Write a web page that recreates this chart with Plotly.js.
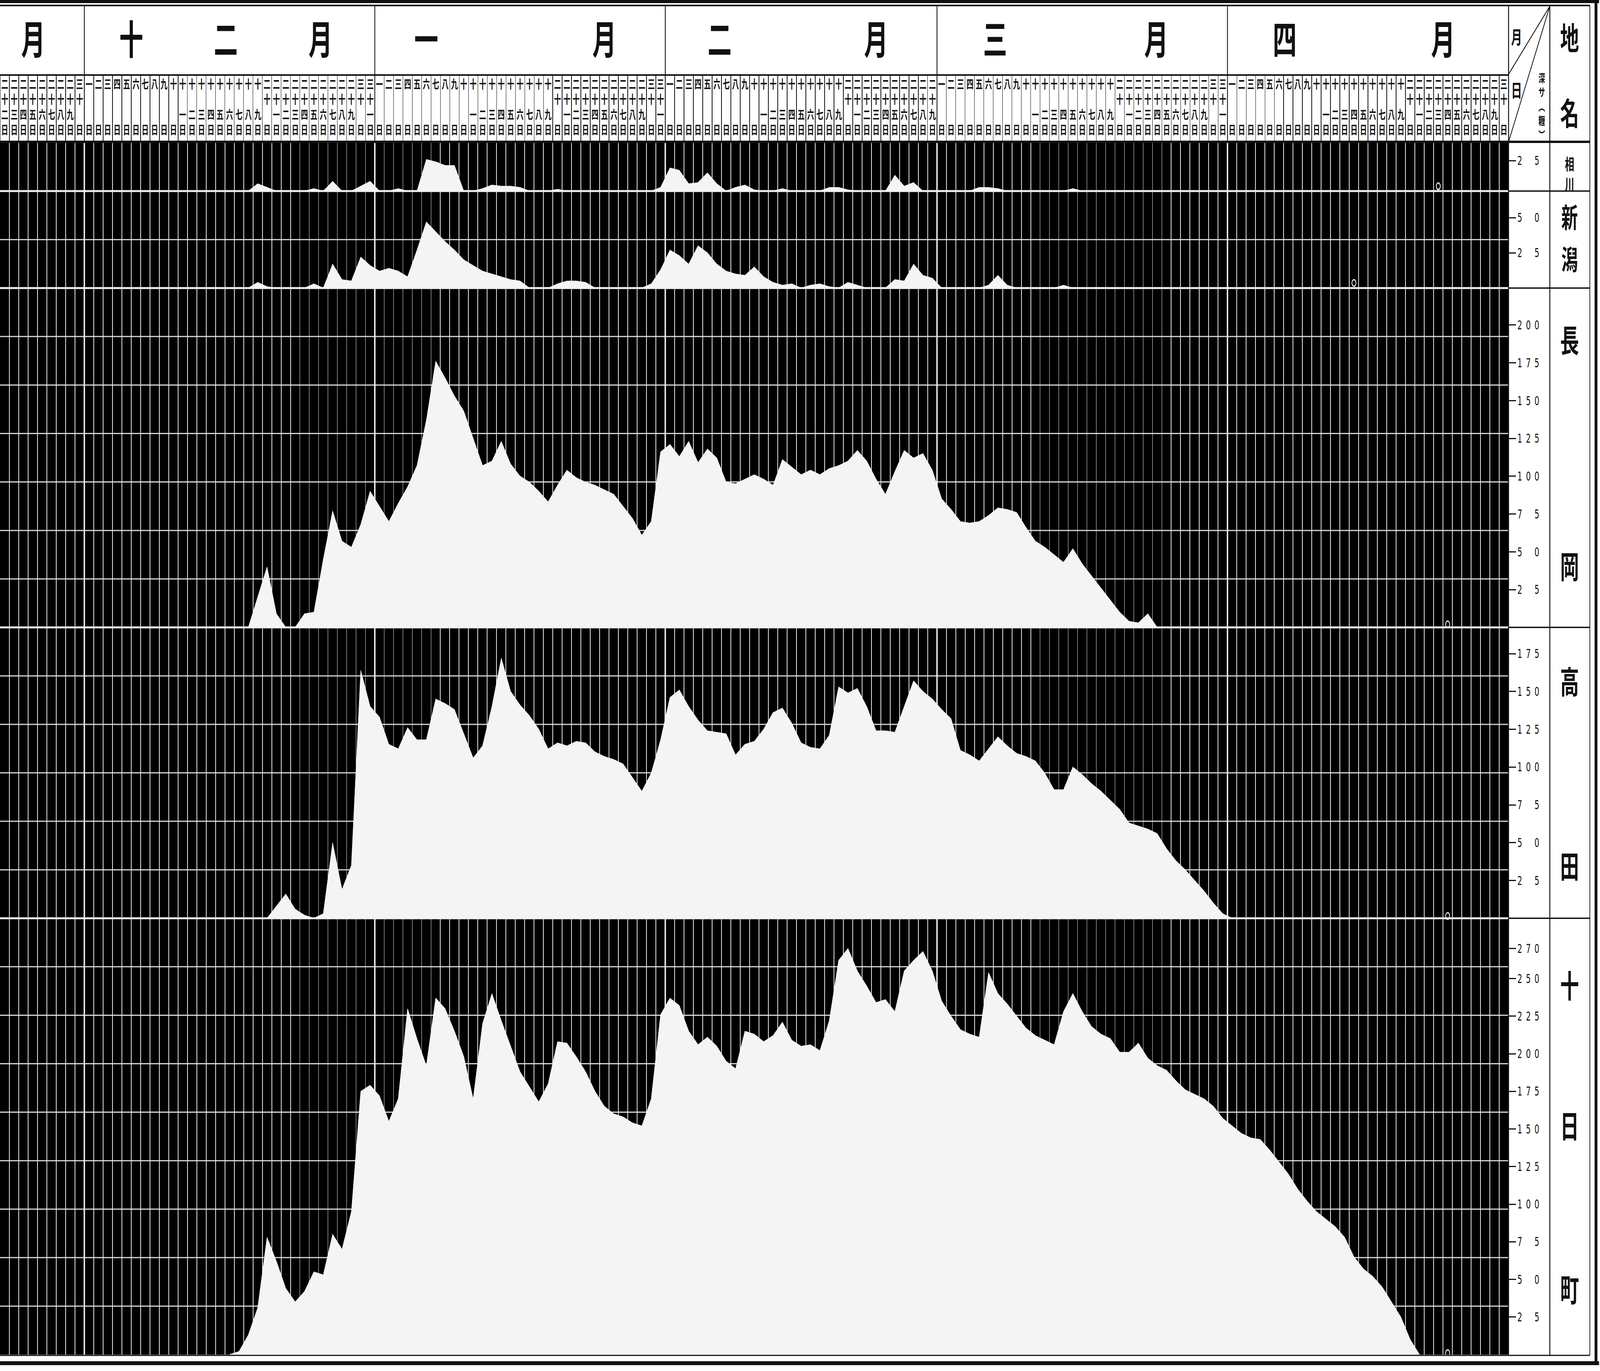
<!DOCTYPE html>
<html>
<head>
<meta charset="utf-8">
<script src="https://cdn.plot.ly/plotly-3.0.1.min.js"></script>
<style>
html,body{margin:0;padding:0;background:#fff;overflow:hidden;}
#wrap{position:absolute;left:0;top:0;width:6790px;height:3509px;transform-origin:0 0;}
#chart{width:6790px;height:3509px;}
</style>
</head>
<body>
<div id="wrap"><div id="chart"></div></div>
<script>
// ---------------- DATA ----------------
const monthNames = ['十一月','十二月','一月','二月','三月','四月'];
const monthFirstDay = [22, 1, 1, 1, 1, 1];
const monthLastDay  = [30, 31, 31, 29, 31, 30];
const monthHeaderChars = [['月'], ['十','二','月'], ['一','月'], ['二','月'], ['三','月'], ['四','月']];

const stationNames = ['相川', '新潟', '長岡', '高田', '十日町'];

// snow depth (cm), consecutive days from the given start date
const aikawaStart = ['十二月', 18];
const aikawa = [
  0,6,3,0,0,0,0,2,0,8,
  0,0,4,8,0,0,2,0,0,26,
  24,21,21,0,0,2,5,4,4,3,
  0,0,0,1.5,0,0,0,0,0,0,
  0,0,0,0,3,19,17,6,7,15,
  6,0,3,5,1,0,0,2,0,0,
  0,0,3,3,1,0,0,0,0,13,
  4,7,0,0,0,0,0,0,3,3,
  2,0,0,0,0,0,0,0,2,0
];

const niigataStart = ['十二月', 18];
const niigata = [
  0,4,1,0,0,0,0,3,0,17,
  6,5,22,16,12,14,12,8,27,47,
  40,33,27,20,16,12,10,8,6,5,
  0,0,0,3,5,5,4,0,0,0,
  0,0,0,3,13,27,23,17,30,25,
  17,12,10,9,15,8,4,2,3,0,
  2,3,1,0,4,2,0,0,0,6,
  5,17,9,7,0,0,0,0,0,2,
  9,2,0,0,0,0,0,2,0
];

const nagaokaStart = ['十二月', 18];
const nagaoka = [
  0,20,40,9,0,0,9,10,45,77,
  57,53,68,90,80,70,82,93,107,137,
  176,165,153,143,125,107,110,123,108,100,
  96,90,83,94,104,99,96,94,91,88,
  80,72,61,70,116,121,113,123,109,118,
  112,96,95,98,101,98,94,111,106,101,
  104,101,105,107,110,117,110,98,88,103,
  117,112,115,104,85,78,70,69,70,74,
  79,78,76,66,57,53,48,43,52,42,
  34,26,18,10,4,3,9,0
];

const takadaStart = ['十二月', 20];
const takada = [
  0,8,16,6,2,0,3,50,19,35,
  164,140,133,115,112,126,118,118,145,142,
  138,122,106,114,140,172,150,141,134,125,
  112,116,114,117,116,110,107,105,102,93,
  84,96,118,146,151,140,131,124,123,122,
  108,115,117,125,136,139,129,116,113,112,
  121,153,149,152,140,124,124,123,140,157,
  150,145,138,132,111,108,104,112,120,114,
  109,107,104,96,85,85,100,95,89,84,
  78,72,63,61,59,56,46,38,32,25,
  18,10,3,0
];

const tokamachiStart = ['十二月', 16];
const tokamachi = [
  0,2,13,31,78,62,44,35,42,55,
  53,80,70,95,175,179,172,155,170,230,
  210,192,237,230,215,198,170,220,240,222,
  205,188,178,168,180,208,207,198,188,175,
  165,160,158,154,152,170,226,237,232,215,
  206,211,205,195,190,215,213,208,212,221,
  209,205,206,202,222,262,270,255,245,234,
  236,228,255,262,268,255,235,225,216,213,
  211,254,240,233,225,217,212,209,206,228,
  240,228,218,213,210,201,201,207,197,192,
  189,182,176,173,170,165,157,152,147,144,
  143,136,128,120,110,102,95,90,85,78,
  65,57,52,45,35,25,10,0
];

// small open circles near the baseline (date, height in cm)
const circleDates = [['四月',23], ['四月',14], ['四月',24], ['四月',24], ['四月',24]];
const circleHeights = [4, 3.6, 2, 1.5, 1];

// tick values on the depth scales
const tickSets = [
  [25],
  [25, 50],
  [25, 50, 75, 100, 125, 150, 175, 200],
  [25, 50, 75, 100, 125, 150, 175],
  [25, 50, 75, 100, 125, 150, 175, 200, 225, 250, 270]
];

// ---------------- GEOMETRY / STYLE ----------------
const W = 6790, H = 3509;
const plotLeft = 0, plotRight = 6402, plotTop = 365, plotBottom = 3467;
const plotW = plotRight - plotLeft, plotH = plotBottom - plotTop;
const py = p => (plotBottom - p) / plotH;   // pixel y -> paper y
const pxp = p => (p - plotLeft) / plotW;    // pixel x -> paper x
const GRID_ROWS = 25;
const panelRows = [[0,1],[1,3],[3,10],[10,16],[16,25]];
const pxPerCm = [3.12, 3.6, 3.87, 3.87, 3.85];
const headerCharPos = [[3.05],[13.5,23.6,33.7],[45.0,64.0],[76.3,93.0],[105.7,122.9],[136.6,153.5]];
const FILL = '#f4f4f4';
const CJK = 'Noto Sans CJK JP';

// fit the fixed-size drawing into the viewport that is actually photographed
(function fit() {
  const vw = window.innerWidth || W, vh = window.innerHeight || H;
  const sx = vw < W ? vw / W : 1, sy = vh < H ? vh / H : 1;
  document.getElementById('wrap').style.transform = 'scale(' + sx + ',' + sy + ')';
})();

// day list
const days = [];
monthNames.forEach((m, i) => {
  for (let d = monthFirstDay[i]; d <= monthLastDay[i]; d++) days.push({m: i, d: d});
});
const nDays = days.length;
function dayIndex(date) {
  const mi = monthNames.indexOf(date[0]);
  return days.findIndex(o => o.m === mi && o.d === date[1]);
}
const monthStartIdx = monthNames.map((m, i) => days.findIndex(o => o.m === i));

const kd = ['', '一','二','三','四','五','六','七','八','九'];
function dayLines(n) {
  const B = '\u3000';
  if (n < 10) return [kd[n], B, B, '日'];
  if (n === 10) return ['十', B, B, '日'];
  if (n < 20) return ['十', B, kd[n-10], '日'];
  if (n === 20) return ['二', '十', B, '日'];
  if (n < 30) return ['二', '十', kd[n-20], '日'];
  if (n === 30) return ['三', '十', B, '日'];
  return ['三', '十', '一', '日'];
}
function spaced(v) {
  const s = String(v), sp = '\u2002';
  if (s.length === 2) return s[0] + sp + '\u2007' + sp + s[1];
  return s.split('').join(sp);
}

// ---------------- TRACES ----------------
const series = [aikawa, niigata, nagaoka, takada, tokamachi];
const starts = [aikawaStart, niigataStart, nagaokaStart, takadaStart, tokamachiStart];
const traces = [];
series.forEach((vals, i) => {
  const s0 = dayIndex(starts[i]);
  traces.push({
    type: 'scatter', mode: 'lines',
    x: vals.map((_, k) => s0 + k), y: vals,
    xaxis: 'x', yaxis: i === 0 ? 'y' : 'y' + (i + 1),
    line: {color: FILL, width: 1.5},
    fill: 'tozeroy', fillcolor: FILL,
    hoverinfo: 'skip', showlegend: false, name: stationNames[i]
  });
});
circleDates.forEach((dt, i) => {
  traces.push({
    type: 'scatter', mode: 'markers',
    x: [dayIndex(dt)], y: [circleHeights[i]],
    xaxis: 'x', yaxis: i === 0 ? 'y' : 'y' + (i + 1),
    marker: {symbol: 'circle-open', size: 17, color: '#ffffff', line: {width: 3, color: '#ffffff'}},
    cliponaxis: false, hoverinfo: 'skip', showlegend: false, name: stationNames[i]
  });
});

// ---------------- LAYOUT ----------------
const layout = {
  width: W, height: H,
  paper_bgcolor: '#ffffff', plot_bgcolor: '#000000',
  margin: {l: plotLeft, r: W - plotRight, t: plotTop, b: H - plotBottom, pad: 0},
  showlegend: false,
  font: {family: CJK, color: '#111'},
  xaxis: {
    domain: [0, 1], range: [-0.5, nDays - 0.5], anchor: 'y', side: 'top',
    tickmode: 'linear', tick0: -0.5, dtick: 1,
    ticks: 'outside', ticklen: 172, tickwidth: 2.5, tickcolor: '#111',
    showticklabels: false,
    showgrid: true, gridcolor: '#e4e4e4', gridwidth: 3,
    zeroline: false, showline: false, fixedrange: true
  },
  shapes: [], annotations: []
};

panelRows.forEach(([r0, r1], i) => {
  const hpx = (r1 - r0) * plotH / GRID_ROWS;
  layout[i === 0 ? 'yaxis' : 'yaxis' + (i + 1)] = {
    domain: [1 - r1 / GRID_ROWS, 1 - r0 / GRID_ROWS],
    range: [0, hpx / pxPerCm[i]], anchor: 'x', side: 'right',
    tickmode: 'array', tickvals: tickSets[i], ticktext: tickSets[i].map(spaced),
    ticks: 'outside', ticklen: 30, tickwidth: 3, tickcolor: '#111',
    tickfont: {family: 'DejaVu Sans', size: 32, color: '#111'},
    showgrid: false, zeroline: false, showline: false, fixedrange: true
  };
});

const S = layout.shapes, A = layout.annotations;
function line(x0, y0, x1, y1, color, width, xref, yref, layer) {
  S.push({type: 'line', x0: x0, y0: y0, x1: x1, y1: y1,
          xref: xref || 'paper', yref: yref || 'paper',
          line: {color: color, width: width}, layer: layer || 'above'});
}

// horizontal paper grid in the black field
const baselineRows = panelRows.map(r => r[1]);
for (let k = 1; k < GRID_ROWS; k++) {
  const isBase = baselineRows.includes(k);
  line(0, 1 - k / GRID_ROWS, 1, 1 - k / GRID_ROWS, isBase ? '#f0f0f0' : '#d8d8d8', isBase ? 5 : 3, 'paper', 'paper', 'below');
}
// month boundaries
monthStartIdx.slice(1).forEach(si => {
  line(si - 0.5, 0, si - 0.5, 1, '#ffffff', 6, 'x', 'paper', 'below');
  line(si - 0.5, 1, si - 0.5, py(14), '#111', 3.5, 'x', 'paper', 'above');
});

// frame and table lines
const xTab1 = 6577, xTab2 = 6747, xOut = 6773;
line(pxp(0), py(4), pxp(6786), py(4), '#111', 8);
line(pxp(0), py(14), pxp(xTab2), py(14), '#111', 4);
line(pxp(0), py(192), pxp(plotRight), py(192), '#111', 4);
line(pxp(0), py(363), pxp(xTab2), py(363), '#111', 6);
line(pxp(0), py(3469), pxp(xTab2), py(3469), '#111', 3);
line(pxp(0), py(3489), pxp(6786), py(3489), '#111', 10);
line(pxp(plotRight), py(14), pxp(plotRight), py(plotBottom), '#111', 4);
line(pxp(xTab1), py(14), pxp(xTab1), py(3469), '#111', 4);
line(pxp(xTab2), py(14), pxp(xTab2), py(3469), '#111', 3);
line(pxp(xOut), py(0), pxp(xOut), py(3494), '#111', 12);
baselineRows.slice(0, 4).forEach(k => {
  const yp = plotTop + k * plotH / GRID_ROWS;
  line(pxp(plotRight), py(yp), pxp(xTab2), py(yp), '#111', 3.5);
});
line(pxp(plotRight), py(190), pxp(xTab1), py(16), '#111', 3);
line(pxp(plotRight), py(363), pxp(xTab1), py(16), '#111', 3);

// day labels
days.forEach((o, i) => {
  A.push({x: i, y: py(354), xref: 'x', yref: 'paper', xanchor: 'center', yanchor: 'bottom',
          text: dayLines(o.d).join('<br>'), showarrow: false,
          font: {family: CJK, size: 30, color: '#111', weight: 700}});
});
// month headers
monthHeaderChars.forEach((chars, mi) => {
  chars.forEach((c, j) => {
    A.push({x: headerCharPos[mi][j], y: py(94), xref: 'x', yref: 'paper',
            xanchor: 'center', yanchor: 'middle', text: c, showarrow: false,
            font: {family: CJK, size: 102, color: '#111', weight: 700}});
  });
});
// right-hand table texts
function ptext(t, x, y, size, weight) {
  A.push({x: pxp(x), y: py(y), xref: 'paper', yref: 'paper', xanchor: 'center', yanchor: 'middle',
          text: t, showarrow: false, font: {family: CJK, size: size, color: '#111', weight: weight || 700}});
}
ptext('月', 6436, 92, 46);
ptext('日', 6436, 228, 46);
ptext('深<br>サ<br>︵<br>糎<br>︶', 6543, 272, 28);
ptext('地', 6661, 92, 80);
ptext('名', 6661, 285, 80);
// place names (each written vertically)
ptext('相<br>川', 6661, 444, 40);
const nameChars = [['新','潟'], ['長','岡'], ['高','田'], ['十','日','町']];
const nameY = [[553, 660], [866, 1445], [1740, 2212], [2518, 2877, 3296]];
const nameSize = [70, 80, 80, 80];
nameChars.forEach((chs, i) => chs.forEach((c, j) => ptext(c, 6661, nameY[i][j], nameSize[i])));

Plotly.newPlot('chart', traces, layout, {staticPlot: true, displayModeBar: false});
</script>
</body>
</html>
